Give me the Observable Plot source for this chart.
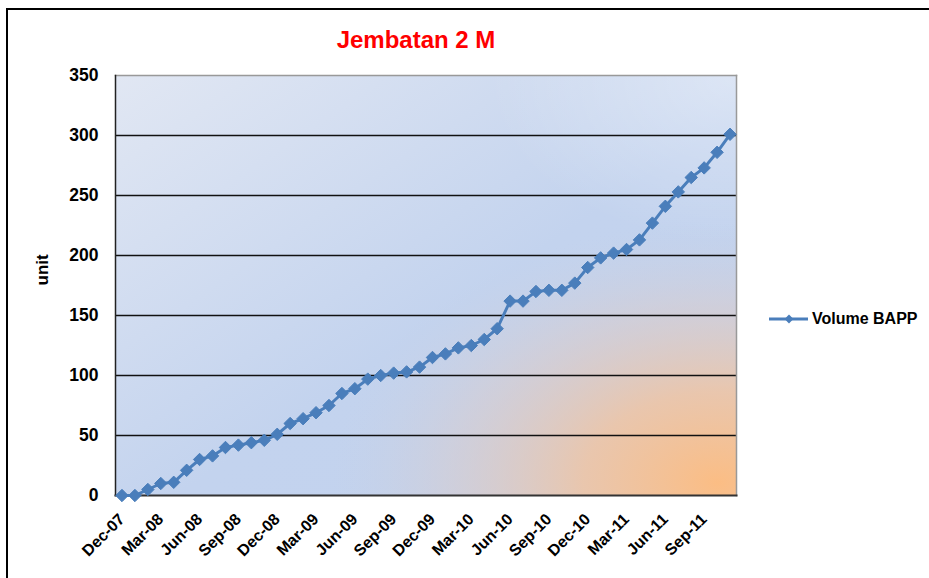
<!DOCTYPE html>
<html>
<head>
<meta charset="utf-8">
<script src="https://cdn.jsdelivr.net/npm/d3@7"></script>
<script src="https://cdn.jsdelivr.net/npm/@observablehq/plot@0.6"></script>
<style>
  body { margin:0; background:#fff; overflow:hidden; font-family:"Liberation Sans", Arial, sans-serif; }
  #wrap { position:relative; width:929px; height:578px; overflow:hidden; }
  #border { position:absolute; left:6px; top:8px; width:1000px; height:700px; border:2px solid #000; }
  #title { position:absolute; left:0; width:832px; top:28px; line-height:24px; text-align:center; color:#ff0000; font-weight:bold; font-size:24px; }
  #plot { position:absolute; left:0; top:0; }
  #legend { position:absolute; left:768px; top:310px; height:18px; font-weight:bold; font-size:16px; line-height:18px; color:#000; display:flex; align-items:center; }
</style>
</head>
<body>
<div id="wrap">
  <div id="border"></div>
  <div id="plot"></div>
  <div id="title">Jembatan 2 M</div>
  <div id="legend"></div>
</div>
<script>
const months = ["Dec-07","Jan-08","Feb-08","Mar-08","Apr-08","May-08","Jun-08","Jul-08","Aug-08","Sep-08","Oct-08","Nov-08",
  "Dec-08","Jan-09","Feb-09","Mar-09","Apr-09","May-09","Jun-09","Jul-09","Aug-09","Sep-09","Oct-09","Nov-09",
  "Dec-09","Jan-10","Feb-10","Mar-10","Apr-10","May-10","Jun-10","Jul-10","Aug-10","Sep-10","Oct-10","Nov-10",
  "Dec-10","Jan-11","Feb-11","Mar-11","Apr-11","May-11","Jun-11","Jul-11","Aug-11","Sep-11","Oct-11","Nov-11"];
const volumeBAPP = [0,0,5,10,11,21,30,33,40,42,44,46,
  51,60,64,69,75,85,89,97,100,102,103,107,
  115,118,123,125,130,139,162,162,170,171,171,177,
  190,198,202,205,213,227,241,253,265,273,286,301];
const xTickLabels = ["Dec-07","Mar-08","Jun-08","Sep-08","Dec-08","Mar-09","Jun-09","Sep-09","Dec-09","Mar-10","Jun-10","Sep-10","Dec-10","Mar-11","Jun-11","Sep-11"];
const yTicks = [0,50,100,150,200,250,300,350];
const seriesName = "Volume BAPP";

const data = months.map((m,i)=>({month:m, value:volumeBAPP[i]}));
const blue = "#4a7ebb";

const chart = Plot.plot({
  width:929, height:578,
  marginLeft:115, marginRight:193, marginTop:75, marginBottom:83,
  style:{fontFamily:"'Liberation Sans', Arial, sans-serif", background:"transparent", color:"#000"},
  x:{type:"band", domain:months, padding:0, axis:null},
  y:{domain:[0,350], axis:null},
  marks:[
    Plot.frame({fill:"url(#bgLin)"}),
    Plot.frame({fill:"url(#bgHi)"}),
    Plot.frame({fill:"url(#bgRad)"}),
    Plot.ruleY(yTicks.filter(d=>d>0 && d<350), {stroke:"#111", strokeWidth:1.4}),
    Plot.frame({anchor:"top", stroke:"#999", strokeWidth:1.5}),
    Plot.frame({anchor:"right", stroke:"#999", strokeWidth:1.5}),
    Plot.frame({anchor:"left", stroke:"#222", strokeWidth:1.5}),
    Plot.frame({anchor:"bottom", stroke:"#333", strokeWidth:2}),
    Plot.axisY({ticks:yTicks, tickSize:0, tickPadding:17, fontSize:17.5, fontWeight:"bold", label:null}),
    Plot.axisX({ticks:xTickLabels, tickSize:0, tickPadding:21, tickRotate:-45, fontSize:16, fontWeight:"bold", label:null}),
    Plot.text(["unit"], {frameAnchor:"left", dx:-73, rotate:-90, fontSize:17, fontWeight:"bold", fill:"#000"}),
    Plot.line(data, {x:"month", y:"value", stroke:blue, strokeWidth:3}),
    Plot.dot(data, {x:"month", y:"value", symbol:"diamond2", r:5.6, fill:blue, stroke:blue, strokeWidth:1})
  ]
});

const svg = d3.select(chart);
const defs = svg.insert("defs", ":first-child");
const lin = defs.append("linearGradient").attr("id","bgLin")
  .attr("x1","0").attr("y1","0").attr("x2","1").attr("y2","1");
lin.append("stop").attr("offset","0").attr("stop-color","#e1e7f3");
lin.append("stop").attr("offset","0.55").attr("stop-color","#c3d3ee");
lin.append("stop").attr("offset","1").attr("stop-color","#c2d2ee");
const hi = defs.append("radialGradient").attr("id","bgHi")
  .attr("cx","1").attr("cy","0").attr("r","0.4");
hi.append("stop").attr("offset","0").attr("stop-color","#ffffff").attr("stop-opacity","0.4");
hi.append("stop").attr("offset","1").attr("stop-color","#ffffff").attr("stop-opacity","0");
const rad = defs.append("radialGradient").attr("id","bgRad")
  .attr("cx","0.97").attr("cy","0.97").attr("r","0.62").attr("fx","0.97").attr("fy","0.97");
rad.append("stop").attr("offset","0").attr("stop-color","#fbbd84").attr("stop-opacity","1");
rad.append("stop").attr("offset","0.35").attr("stop-color","#f0c4a2").attr("stop-opacity","0.85");
rad.append("stop").attr("offset","0.7").attr("stop-color","#dccbc8").attr("stop-opacity","0.45");
rad.append("stop").attr("offset","1").attr("stop-color","#c8cfe2").attr("stop-opacity","0");

document.getElementById("plot").appendChild(chart);

// legend
const leg = d3.select("#legend");
const ls = leg.append("svg").attr("width",40).attr("height",18);
ls.append("line").attr("x1",1).attr("x2",40).attr("y1",9).attr("y2",9).attr("stroke",blue).attr("stroke-width",3);
ls.append("path").attr("d", d3.symbol(d3.symbolDiamond2, 50)()).attr("transform","translate(21,9)").attr("fill",blue);
leg.append("span").text(seriesName).style("margin-left","4px");
</script>
</body>
</html>
